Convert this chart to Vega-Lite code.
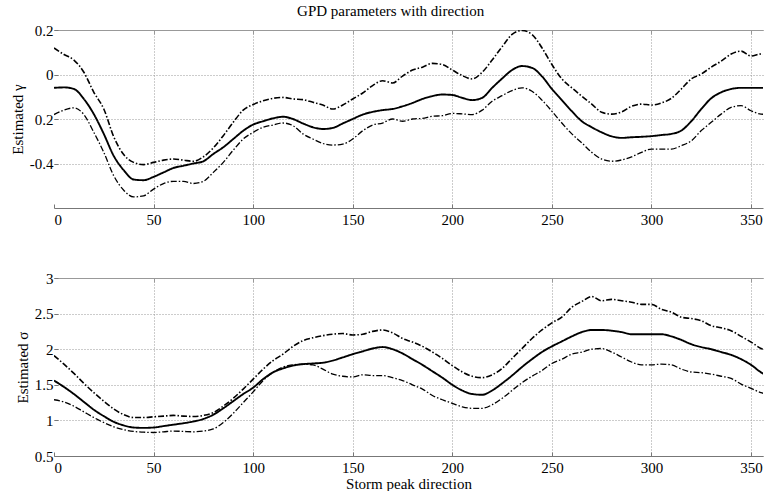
{
"$schema": "https://vega.github.io/schema/vega-lite/v6.json",
"background": "white",
"padding": {"left": 10, "top": 4, "right": 0, "bottom": 0},
"config": {
  "font": "Liberation Serif, Times New Roman, serif",
  "view": {"stroke": null},
  "concat": {"spacing": 44},
  "axis": {"labelFont": "Liberation Serif, Times New Roman, serif", "labelFontSize": 15, "labelColor": "#000", "titleFont": "Liberation Serif, Times New Roman, serif", "titleFontSize": 15, "titleFontWeight": "normal", "titleColor": "#000", "gridColor": "#999", "gridDash": [1, 2], "gridOpacity": 1, "gridWidth": 1, "tickColor": "#777", "tickSize": -4, "domainColor": "#777", "labelPadding": 5, "labelOverlap": false}
},
"title": {"text": "GPD parameters with direction", "font": "Liberation Serif, Times New Roman, serif", "fontSize": 15, "fontWeight": "normal", "color": "#000", "anchor": "middle", "offset": 4},
"datasets": {
"gamma": [
{"dir":0,"series":"est","value":-0.06},{"dir":5,"series":"est","value":-0.058},{"dir":10,"series":"est","value":-0.065},{"dir":15,"series":"est","value":-0.11},{"dir":20,"series":"est","value":-0.178},{"dir":25,"series":"est","value":-0.267},{"dir":30,"series":"est","value":-0.366},{"dir":35,"series":"est","value":-0.43},{"dir":40,"series":"est","value":-0.472},{"dir":45,"series":"est","value":-0.475},
{"dir":50,"series":"est","value":-0.46},{"dir":55,"series":"est","value":-0.44},{"dir":60,"series":"est","value":-0.42},{"dir":65,"series":"est","value":-0.41},{"dir":70,"series":"est","value":-0.4},{"dir":75,"series":"est","value":-0.39},{"dir":80,"series":"est","value":-0.357},{"dir":85,"series":"est","value":-0.327},{"dir":90,"series":"est","value":-0.29},{"dir":95,"series":"est","value":-0.253},
{"dir":100,"series":"est","value":-0.225},{"dir":105,"series":"est","value":-0.21},{"dir":110,"series":"est","value":-0.197},{"dir":115,"series":"est","value":-0.19},{"dir":120,"series":"est","value":-0.2},{"dir":125,"series":"est","value":-0.22},{"dir":130,"series":"est","value":-0.237},{"dir":135,"series":"est","value":-0.245},{"dir":140,"series":"est","value":-0.24},{"dir":145,"series":"est","value":-0.22},
{"dir":150,"series":"est","value":-0.2},{"dir":155,"series":"est","value":-0.18},{"dir":160,"series":"est","value":-0.168},{"dir":165,"series":"est","value":-0.16},{"dir":170,"series":"est","value":-0.155},{"dir":175,"series":"est","value":-0.143},{"dir":180,"series":"est","value":-0.128},{"dir":185,"series":"est","value":-0.11},{"dir":190,"series":"est","value":-0.097},{"dir":195,"series":"est","value":-0.09},
{"dir":200,"series":"est","value":-0.092},{"dir":205,"series":"est","value":-0.105},{"dir":210,"series":"est","value":-0.115},{"dir":215,"series":"est","value":-0.105},{"dir":220,"series":"est","value":-0.06},{"dir":225,"series":"est","value":-0.018},{"dir":230,"series":"est","value":0.02},{"dir":235,"series":"est","value":0.038},{"dir":240,"series":"est","value":0.03},{"dir":245,"series":"est","value":-0.008},
{"dir":250,"series":"est","value":-0.065},{"dir":255,"series":"est","value":-0.115},{"dir":260,"series":"est","value":-0.165},{"dir":265,"series":"est","value":-0.21},{"dir":270,"series":"est","value":-0.237},{"dir":275,"series":"est","value":-0.26},{"dir":280,"series":"est","value":-0.278},{"dir":285,"series":"est","value":-0.285},{"dir":290,"series":"est","value":-0.282},{"dir":295,"series":"est","value":-0.28},
{"dir":300,"series":"est","value":-0.277},{"dir":305,"series":"est","value":-0.272},{"dir":310,"series":"est","value":-0.267},{"dir":315,"series":"est","value":-0.252},{"dir":320,"series":"est","value":-0.21},{"dir":325,"series":"est","value":-0.155},{"dir":330,"series":"est","value":-0.107},{"dir":335,"series":"est","value":-0.08},{"dir":340,"series":"est","value":-0.065},{"dir":345,"series":"est","value":-0.06},
{"dir":350,"series":"est","value":-0.06},{"dir":355,"series":"est","value":-0.06},{"dir":360,"series":"est","value":-0.06},
{"dir":0,"series":"upper","value":0.119},{"dir":5,"series":"upper","value":0.09},{"dir":10,"series":"upper","value":0.065},{"dir":15,"series":"upper","value":0.01},{"dir":20,"series":"upper","value":-0.08},{"dir":25,"series":"upper","value":-0.155},{"dir":30,"series":"upper","value":-0.28},{"dir":35,"series":"upper","value":-0.36},{"dir":40,"series":"upper","value":-0.395},{"dir":45,"series":"upper","value":-0.405},
{"dir":50,"series":"upper","value":-0.395},{"dir":55,"series":"upper","value":-0.385},{"dir":60,"series":"upper","value":-0.38},{"dir":65,"series":"upper","value":-0.385},{"dir":70,"series":"upper","value":-0.39},{"dir":75,"series":"upper","value":-0.37},{"dir":80,"series":"upper","value":-0.33},{"dir":85,"series":"upper","value":-0.275},{"dir":90,"series":"upper","value":-0.215},{"dir":95,"series":"upper","value":-0.16},
{"dir":100,"series":"upper","value":-0.135},{"dir":105,"series":"upper","value":-0.118},{"dir":110,"series":"upper","value":-0.107},{"dir":115,"series":"upper","value":-0.103},{"dir":120,"series":"upper","value":-0.11},{"dir":125,"series":"upper","value":-0.113},{"dir":130,"series":"upper","value":-0.125},{"dir":135,"series":"upper","value":-0.137},{"dir":140,"series":"upper","value":-0.155},{"dir":145,"series":"upper","value":-0.137},
{"dir":150,"series":"upper","value":-0.11},{"dir":155,"series":"upper","value":-0.083},{"dir":160,"series":"upper","value":-0.05},{"dir":165,"series":"upper","value":-0.028},{"dir":170,"series":"upper","value":-0.038},{"dir":175,"series":"upper","value":-0.007},{"dir":180,"series":"upper","value":0.02},{"dir":185,"series":"upper","value":0.033},{"dir":190,"series":"upper","value":0.05},{"dir":195,"series":"upper","value":0.045},
{"dir":200,"series":"upper","value":0.02},{"dir":205,"series":"upper","value":-0.005},{"dir":210,"series":"upper","value":-0.02},{"dir":215,"series":"upper","value":0.01},{"dir":220,"series":"upper","value":0.065},{"dir":225,"series":"upper","value":0.125},{"dir":230,"series":"upper","value":0.18},{"dir":235,"series":"upper","value":0.198},{"dir":240,"series":"upper","value":0.18},{"dir":245,"series":"upper","value":0.12},
{"dir":250,"series":"upper","value":0.045},{"dir":255,"series":"upper","value":-0.02},{"dir":260,"series":"upper","value":-0.06},{"dir":265,"series":"upper","value":-0.097},{"dir":270,"series":"upper","value":-0.133},{"dir":275,"series":"upper","value":-0.17},{"dir":280,"series":"upper","value":-0.178},{"dir":285,"series":"upper","value":-0.168},{"dir":290,"series":"upper","value":-0.143},{"dir":295,"series":"upper","value":-0.133},
{"dir":300,"series":"upper","value":-0.137},{"dir":305,"series":"upper","value":-0.128},{"dir":310,"series":"upper","value":-0.107},{"dir":315,"series":"upper","value":-0.065},{"dir":320,"series":"upper","value":-0.02},{"dir":325,"series":"upper","value":0.002},{"dir":330,"series":"upper","value":0.033},{"dir":335,"series":"upper","value":0.06},{"dir":340,"series":"upper","value":0.092},{"dir":345,"series":"upper","value":0.105},
{"dir":350,"series":"upper","value":0.083},{"dir":355,"series":"upper","value":0.092},{"dir":360,"series":"upper","value":0.09},
{"dir":0,"series":"lower","value":-0.18},{"dir":5,"series":"lower","value":-0.16},{"dir":10,"series":"lower","value":-0.15},{"dir":15,"series":"lower","value":-0.18},{"dir":20,"series":"lower","value":-0.26},{"dir":25,"series":"lower","value":-0.35},{"dir":30,"series":"lower","value":-0.455},{"dir":35,"series":"lower","value":-0.52},{"dir":40,"series":"lower","value":-0.55},{"dir":45,"series":"lower","value":-0.545},
{"dir":50,"series":"lower","value":-0.515},{"dir":55,"series":"lower","value":-0.49},{"dir":60,"series":"lower","value":-0.48},{"dir":65,"series":"lower","value":-0.48},{"dir":70,"series":"lower","value":-0.49},{"dir":75,"series":"lower","value":-0.48},{"dir":80,"series":"lower","value":-0.44},{"dir":85,"series":"lower","value":-0.395},{"dir":90,"series":"lower","value":-0.34},{"dir":95,"series":"lower","value":-0.29},
{"dir":100,"series":"lower","value":-0.26},{"dir":105,"series":"lower","value":-0.237},{"dir":110,"series":"lower","value":-0.227},{"dir":115,"series":"lower","value":-0.218},{"dir":120,"series":"lower","value":-0.23},{"dir":125,"series":"lower","value":-0.267},{"dir":130,"series":"lower","value":-0.29},{"dir":135,"series":"lower","value":-0.31},{"dir":140,"series":"lower","value":-0.317},{"dir":145,"series":"lower","value":-0.313},
{"dir":150,"series":"lower","value":-0.29},{"dir":155,"series":"lower","value":-0.253},{"dir":160,"series":"lower","value":-0.227},{"dir":165,"series":"lower","value":-0.218},{"dir":170,"series":"lower","value":-0.2},{"dir":175,"series":"lower","value":-0.21},{"dir":180,"series":"lower","value":-0.2},{"dir":185,"series":"lower","value":-0.197},{"dir":190,"series":"lower","value":-0.188},{"dir":195,"series":"lower","value":-0.185},
{"dir":200,"series":"lower","value":-0.175},{"dir":205,"series":"lower","value":-0.177},{"dir":210,"series":"lower","value":-0.18},{"dir":215,"series":"lower","value":-0.16},{"dir":220,"series":"lower","value":-0.12},{"dir":225,"series":"lower","value":-0.095},{"dir":230,"series":"lower","value":-0.072},{"dir":235,"series":"lower","value":-0.06},{"dir":240,"series":"lower","value":-0.075},{"dir":245,"series":"lower","value":-0.115},
{"dir":250,"series":"lower","value":-0.165},{"dir":255,"series":"lower","value":-0.218},{"dir":260,"series":"lower","value":-0.267},{"dir":265,"series":"lower","value":-0.307},{"dir":270,"series":"lower","value":-0.35},{"dir":275,"series":"lower","value":-0.38},{"dir":280,"series":"lower","value":-0.39},{"dir":285,"series":"lower","value":-0.384},{"dir":290,"series":"lower","value":-0.37},{"dir":295,"series":"lower","value":-0.35},
{"dir":300,"series":"lower","value":-0.335},{"dir":305,"series":"lower","value":-0.335},{"dir":310,"series":"lower","value":-0.335},{"dir":315,"series":"lower","value":-0.32},{"dir":320,"series":"lower","value":-0.298},{"dir":325,"series":"lower","value":-0.252},{"dir":330,"series":"lower","value":-0.215},{"dir":335,"series":"lower","value":-0.178},{"dir":340,"series":"lower","value":-0.148},{"dir":345,"series":"lower","value":-0.14},
{"dir":350,"series":"lower","value":-0.163},{"dir":355,"series":"lower","value":-0.178},{"dir":360,"series":"lower","value":-0.18}
],
"sigma": [
{"dir":0,"series":"est","value":1.56},{"dir":5,"series":"est","value":1.47},{"dir":10,"series":"est","value":1.37},{"dir":15,"series":"est","value":1.26},{"dir":20,"series":"est","value":1.15},{"dir":25,"series":"est","value":1.06},{"dir":30,"series":"est","value":0.98},{"dir":35,"series":"est","value":0.93},{"dir":40,"series":"est","value":0.9},{"dir":45,"series":"est","value":0.895},
{"dir":50,"series":"est","value":0.9},{"dir":55,"series":"est","value":0.92},{"dir":60,"series":"est","value":0.94},{"dir":65,"series":"est","value":0.96},{"dir":70,"series":"est","value":0.985},{"dir":75,"series":"est","value":1.02},{"dir":80,"series":"est","value":1.08},{"dir":85,"series":"est","value":1.17},{"dir":90,"series":"est","value":1.27},{"dir":95,"series":"est","value":1.37},
{"dir":100,"series":"est","value":1.46},{"dir":105,"series":"est","value":1.58},{"dir":110,"series":"est","value":1.675},{"dir":115,"series":"est","value":1.73},{"dir":120,"series":"est","value":1.77},{"dir":125,"series":"est","value":1.79},{"dir":130,"series":"est","value":1.8},{"dir":135,"series":"est","value":1.81},{"dir":140,"series":"est","value":1.84},{"dir":145,"series":"est","value":1.885},
{"dir":150,"series":"est","value":1.93},{"dir":155,"series":"est","value":1.97},{"dir":160,"series":"est","value":2.01},{"dir":165,"series":"est","value":2.03},{"dir":170,"series":"est","value":2.0},{"dir":175,"series":"est","value":1.94},{"dir":180,"series":"est","value":1.86},{"dir":185,"series":"est","value":1.78},{"dir":190,"series":"est","value":1.69},{"dir":195,"series":"est","value":1.6},
{"dir":200,"series":"est","value":1.5},{"dir":205,"series":"est","value":1.42},{"dir":210,"series":"est","value":1.37},{"dir":215,"series":"est","value":1.36},{"dir":220,"series":"est","value":1.42},{"dir":225,"series":"est","value":1.52},{"dir":230,"series":"est","value":1.63},{"dir":235,"series":"est","value":1.75},{"dir":240,"series":"est","value":1.86},{"dir":245,"series":"est","value":1.96},
{"dir":250,"series":"est","value":2.04},{"dir":255,"series":"est","value":2.11},{"dir":260,"series":"est","value":2.18},{"dir":265,"series":"est","value":2.24},{"dir":270,"series":"est","value":2.27},{"dir":275,"series":"est","value":2.27},{"dir":280,"series":"est","value":2.26},{"dir":285,"series":"est","value":2.24},{"dir":290,"series":"est","value":2.21},{"dir":295,"series":"est","value":2.21},
{"dir":300,"series":"est","value":2.21},{"dir":305,"series":"est","value":2.21},{"dir":310,"series":"est","value":2.18},{"dir":315,"series":"est","value":2.13},{"dir":320,"series":"est","value":2.07},{"dir":325,"series":"est","value":2.03},{"dir":330,"series":"est","value":2.0},{"dir":335,"series":"est","value":1.96},{"dir":340,"series":"est","value":1.92},{"dir":345,"series":"est","value":1.86},
{"dir":350,"series":"est","value":1.78},{"dir":355,"series":"est","value":1.675},{"dir":360,"series":"est","value":1.6},
{"dir":0,"series":"upper","value":1.91},{"dir":5,"series":"upper","value":1.79},{"dir":10,"series":"upper","value":1.66},{"dir":15,"series":"upper","value":1.52},{"dir":20,"series":"upper","value":1.39},{"dir":25,"series":"upper","value":1.27},{"dir":30,"series":"upper","value":1.16},{"dir":35,"series":"upper","value":1.08},{"dir":40,"series":"upper","value":1.04},{"dir":45,"series":"upper","value":1.04},
{"dir":50,"series":"upper","value":1.05},{"dir":55,"series":"upper","value":1.06},{"dir":60,"series":"upper","value":1.07},{"dir":65,"series":"upper","value":1.06},{"dir":70,"series":"upper","value":1.055},{"dir":75,"series":"upper","value":1.07},{"dir":80,"series":"upper","value":1.11},{"dir":85,"series":"upper","value":1.2},{"dir":90,"series":"upper","value":1.31},{"dir":95,"series":"upper","value":1.44},
{"dir":100,"series":"upper","value":1.58},{"dir":105,"series":"upper","value":1.72},{"dir":110,"series":"upper","value":1.84},{"dir":115,"series":"upper","value":1.93},{"dir":120,"series":"upper","value":2.04},{"dir":125,"series":"upper","value":2.12},{"dir":130,"series":"upper","value":2.16},{"dir":135,"series":"upper","value":2.19},{"dir":140,"series":"upper","value":2.21},{"dir":145,"series":"upper","value":2.22},
{"dir":150,"series":"upper","value":2.2},{"dir":155,"series":"upper","value":2.21},{"dir":160,"series":"upper","value":2.25},{"dir":165,"series":"upper","value":2.27},{"dir":170,"series":"upper","value":2.23},{"dir":175,"series":"upper","value":2.15},{"dir":180,"series":"upper","value":2.1},{"dir":185,"series":"upper","value":2.04},{"dir":190,"series":"upper","value":1.96},{"dir":195,"series":"upper","value":1.87},
{"dir":200,"series":"upper","value":1.77},{"dir":205,"series":"upper","value":1.68},{"dir":210,"series":"upper","value":1.62},{"dir":215,"series":"upper","value":1.6},{"dir":220,"series":"upper","value":1.64},{"dir":225,"series":"upper","value":1.73},{"dir":230,"series":"upper","value":1.87},{"dir":235,"series":"upper","value":2.01},{"dir":240,"series":"upper","value":2.15},{"dir":245,"series":"upper","value":2.27},
{"dir":250,"series":"upper","value":2.37},{"dir":255,"series":"upper","value":2.45},{"dir":260,"series":"upper","value":2.59},{"dir":265,"series":"upper","value":2.67},{"dir":270,"series":"upper","value":2.74},{"dir":275,"series":"upper","value":2.68},{"dir":280,"series":"upper","value":2.7},{"dir":285,"series":"upper","value":2.68},{"dir":290,"series":"upper","value":2.66},{"dir":295,"series":"upper","value":2.63},
{"dir":300,"series":"upper","value":2.63},{"dir":305,"series":"upper","value":2.56},{"dir":310,"series":"upper","value":2.52},{"dir":315,"series":"upper","value":2.45},{"dir":320,"series":"upper","value":2.43},{"dir":325,"series":"upper","value":2.4},{"dir":330,"series":"upper","value":2.33},{"dir":335,"series":"upper","value":2.3},{"dir":340,"series":"upper","value":2.26},{"dir":345,"series":"upper","value":2.18},
{"dir":350,"series":"upper","value":2.1},{"dir":355,"series":"upper","value":2.01},{"dir":360,"series":"upper","value":1.97},
{"dir":0,"series":"lower","value":1.29},{"dir":5,"series":"lower","value":1.26},{"dir":10,"series":"lower","value":1.2},{"dir":15,"series":"lower","value":1.12},{"dir":20,"series":"lower","value":1.04},{"dir":25,"series":"lower","value":0.97},{"dir":30,"series":"lower","value":0.91},{"dir":35,"series":"lower","value":0.87},{"dir":40,"series":"lower","value":0.845},{"dir":45,"series":"lower","value":0.835},
{"dir":50,"series":"lower","value":0.83},{"dir":55,"series":"lower","value":0.84},{"dir":60,"series":"lower","value":0.85},{"dir":65,"series":"lower","value":0.845},{"dir":70,"series":"lower","value":0.84},{"dir":75,"series":"lower","value":0.85},{"dir":80,"series":"lower","value":0.88},{"dir":85,"series":"lower","value":0.97},{"dir":90,"series":"lower","value":1.1},{"dir":95,"series":"lower","value":1.25},
{"dir":100,"series":"lower","value":1.4},{"dir":105,"series":"lower","value":1.56},{"dir":110,"series":"lower","value":1.675},{"dir":115,"series":"lower","value":1.75},{"dir":120,"series":"lower","value":1.78},{"dir":125,"series":"lower","value":1.79},{"dir":130,"series":"lower","value":1.78},{"dir":135,"series":"lower","value":1.72},{"dir":140,"series":"lower","value":1.65},{"dir":145,"series":"lower","value":1.62},
{"dir":150,"series":"lower","value":1.61},{"dir":155,"series":"lower","value":1.64},{"dir":160,"series":"lower","value":1.63},{"dir":165,"series":"lower","value":1.63},{"dir":170,"series":"lower","value":1.6},{"dir":175,"series":"lower","value":1.56},{"dir":180,"series":"lower","value":1.5},{"dir":185,"series":"lower","value":1.44},{"dir":190,"series":"lower","value":1.35},{"dir":195,"series":"lower","value":1.29},
{"dir":200,"series":"lower","value":1.24},{"dir":205,"series":"lower","value":1.19},{"dir":210,"series":"lower","value":1.17},{"dir":215,"series":"lower","value":1.17},{"dir":220,"series":"lower","value":1.22},{"dir":225,"series":"lower","value":1.31},{"dir":230,"series":"lower","value":1.42},{"dir":235,"series":"lower","value":1.53},{"dir":240,"series":"lower","value":1.62},{"dir":245,"series":"lower","value":1.7},
{"dir":250,"series":"lower","value":1.8},{"dir":255,"series":"lower","value":1.86},{"dir":260,"series":"lower","value":1.93},{"dir":265,"series":"lower","value":1.96},{"dir":270,"series":"lower","value":2.0},{"dir":275,"series":"lower","value":2.01},{"dir":280,"series":"lower","value":1.96},{"dir":285,"series":"lower","value":1.89},{"dir":290,"series":"lower","value":1.82},{"dir":295,"series":"lower","value":1.78},
{"dir":300,"series":"lower","value":1.78},{"dir":305,"series":"lower","value":1.79},{"dir":310,"series":"lower","value":1.78},{"dir":315,"series":"lower","value":1.72},{"dir":320,"series":"lower","value":1.68},{"dir":325,"series":"lower","value":1.67},{"dir":330,"series":"lower","value":1.65},{"dir":335,"series":"lower","value":1.62},{"dir":340,"series":"lower","value":1.59},{"dir":345,"series":"lower","value":1.51},
{"dir":350,"series":"lower","value":1.45},{"dir":355,"series":"lower","value":1.39},{"dir":360,"series":"lower","value":1.36}
]
},
"vconcat": [
{
  "width": 709, "height": 178,
  "data": {"name": "gamma"},
  "layer": [
    {
      "mark": {"type": "line", "color": "#000", "clip": true, "interpolate": "monotone"},
      "encoding": {
        "x": {"field": "dir", "type": "quantitative", "scale": {"domain": [0, 356], "nice": false, "zero": false},
              "axis": {"values": [0, 50, 100, 150, 200, 250, 300, 350], "format": "d", "title": null, "grid": true, "domain": true,
                       "labelFont": "Liberation Serif, Times New Roman, serif", "labelFontSize": 15, "labelColor": "#000", "labelOverlap": false, "labelPadding": 8, "tickSize": -4,
                       "gridColor": "#999", "gridDash": [1, 2], "domainColor": "#777", "tickColor": "#777",
                       "gridOpacity": {"condition": {"test": "datum.value == 0", "value": 0}, "value": 1}}},
        "y": {"field": "value", "type": "quantitative", "scale": {"domain": [-0.6, 0.2], "nice": false, "zero": false},
              "axis": {"values": [-0.4, -0.2, 0, 0.2], "title": "Estimated γ", "domain": false, "titlePadding": 4, "labelPadding": 5,
                       "labelFont": "Liberation Serif, Times New Roman, serif", "labelFontSize": 15, "labelColor": "#000", "labelOverlap": false, "labelBound": false, "tickSize": -4,
                       "titleFont": "Liberation Serif, Times New Roman, serif", "titleFontSize": 15, "titleFontWeight": "normal", "titleColor": "#000",
                       "gridColor": "#999", "gridDash": [1, 2], "tickColor": "#777",
                       "labelExpr": "datum.value < -0.3 ? '-0.4' : datum.value < -0.1 ? '0.2' : datum.value < 0.1 ? '0' : '0.2'"}},
        "strokeDash": {"field": "series", "type": "nominal", "scale": {"domain": ["est", "upper", "lower"], "range": [[1, 0], [6, 2, 1.5, 2], [6, 2, 1.5, 2]]}, "legend": null},
        "strokeWidth": {"field": "series", "type": "nominal", "scale": {"domain": ["est", "upper", "lower"], "range": [1.9, 1.3, 1.3]}, "legend": null}
      }
    },
    {
      "mark": {"type": "line", "opacity": 0},
      "encoding": {
        "x": {"field": "dir", "type": "quantitative", "scale": {"domain": [0, 356], "nice": false, "zero": false},
              "axis": {"orient": "top", "labels": false, "grid": false, "title": null, "values": [50, 100, 150, 200, 250, 300, 350], "tickSize": -4, "domainColor": "#999", "tickColor": "#999"}},
        "y": {"field": "value", "type": "quantitative", "axis": null}
      }
    }
  ],
  "resolve": {"axis": {"x": "independent", "y": "independent"}}
},
{
  "width": 709, "height": 178,
  "data": {"name": "sigma"},
  "layer": [
    {
      "mark": {"type": "line", "color": "#000", "clip": true, "interpolate": "monotone"},
      "encoding": {
        "x": {"field": "dir", "type": "quantitative", "scale": {"domain": [0, 356], "nice": false, "zero": false},
              "axis": {"values": [0, 50, 100, 150, 200, 250, 300, 350], "format": "d", "title": "Storm peak direction", "titlePadding": 1, "grid": true, "domain": true,
                       "labelFont": "Liberation Serif, Times New Roman, serif", "labelFontSize": 15, "labelColor": "#000", "labelOverlap": false, "labelPadding": 8, "tickSize": -4,
                       "titleFont": "Liberation Serif, Times New Roman, serif", "titleFontSize": 15, "titleFontWeight": "normal", "titleColor": "#000",
                       "gridColor": "#999", "gridDash": [1, 2], "domainColor": "#777", "tickColor": "#777",
                       "gridOpacity": {"condition": {"test": "datum.value == 0", "value": 0}, "value": 1}}},
        "y": {"field": "value", "type": "quantitative", "scale": {"domain": [0.5, 3], "nice": false, "zero": false},
              "axis": {"values": [0.5, 1, 1.5, 2, 2.5, 3], "format": "~g", "title": "Estimated σ", "domain": false, "titlePadding": 4, "labelPadding": 5,
                       "labelFont": "Liberation Serif, Times New Roman, serif", "labelFontSize": 15, "labelColor": "#000", "labelOverlap": false, "labelBound": false, "tickSize": -4,
                       "titleFont": "Liberation Serif, Times New Roman, serif", "titleFontSize": 15, "titleFontWeight": "normal", "titleColor": "#000",
                       "gridColor": "#999", "gridDash": [1, 2], "tickColor": "#777"}},
        "strokeDash": {"field": "series", "type": "nominal", "scale": {"domain": ["est", "upper", "lower"], "range": [[1, 0], [6, 2, 1.5, 2], [6, 2, 1.5, 2]]}, "legend": null},
        "strokeWidth": {"field": "series", "type": "nominal", "scale": {"domain": ["est", "upper", "lower"], "range": [1.9, 1.3, 1.3]}, "legend": null}
      }
    },
    {
      "mark": {"type": "line", "opacity": 0},
      "encoding": {
        "x": {"field": "dir", "type": "quantitative", "scale": {"domain": [0, 356], "nice": false, "zero": false},
              "axis": {"orient": "top", "labels": false, "grid": false, "title": null, "values": [50, 100, 150, 200, 250, 300, 350], "tickSize": -4, "domainColor": "#999", "tickColor": "#999"}},
        "y": {"field": "value", "type": "quantitative", "axis": null}
      }
    }
  ],
  "resolve": {"axis": {"x": "independent", "y": "independent"}}
}
]
}
